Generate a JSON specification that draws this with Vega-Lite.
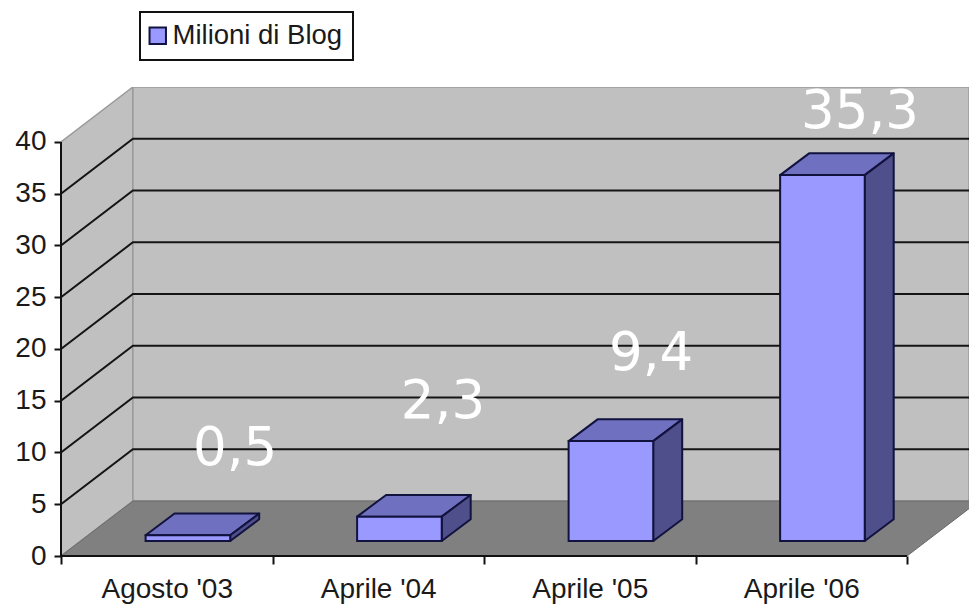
{
 "$schema":"https://vega.github.io/schema/vega-lite/v6.json",
 "autosize":{"type":"none"},
 "padding":{"left":61,"top":87,"right":0,"bottom":48},
 "width":908,"height":469,
 "background":"white",
 "config":{"view":{"stroke":null},"legend":{"strokeWidth":2},"axis":{"labelFont":"Liberation Sans","labelFontSize":28,"labelColor":"#1a1a1a","grid":false,"title":null}},
 "datasets":{
  "walls":[
   {"panel":"left","x":0,"lo":0,"hi":40},{"panel":"left","x":0.34,"lo":5.31,"hi":45.31},
   {"panel":"back","x":0.34,"lo":5.31,"hi":45.31},{"panel":"back","x":4.293,"lo":5.31,"hi":45.31}
  ],
  "floor":[{"y":0,"xl":0,"xr":4},{"y":5.31,"xl":0.34,"xr":4.34}],
  "grid":[
   {"v":5,"x":0,"y":5},{"v":5,"x":0.34,"y":10.31},{"v":5,"x":4.293,"y":10.31},
   {"v":10,"x":0,"y":10},{"v":10,"x":0.34,"y":15.31},{"v":10,"x":4.293,"y":15.31},
   {"v":15,"x":0,"y":15},{"v":15,"x":0.34,"y":20.31},{"v":15,"x":4.293,"y":20.31},
   {"v":20,"x":0,"y":20},{"v":20,"x":0.34,"y":25.31},{"v":20,"x":4.293,"y":25.31},
   {"v":25,"x":0,"y":25},{"v":25,"x":0.34,"y":30.31},{"v":25,"x":4.293,"y":30.31},
   {"v":30,"x":0,"y":30},{"v":30,"x":0.34,"y":35.31},{"v":30,"x":4.293,"y":35.31},
   {"v":35,"x":0,"y":35},{"v":35,"x":0.34,"y":40.31},{"v":35,"x":4.293,"y":40.31}
  ],
  "fronts":[
   {"bar":"Agosto '03","series":"Milioni di Blog","xl":0.4,"xr":0.8,"base":1.45,"top":2.0},
   {"bar":"Aprile '04","series":"Milioni di Blog","xl":1.4,"xr":1.8,"base":1.45,"top":3.8},
   {"bar":"Aprile '05","series":"Milioni di Blog","xl":2.4,"xr":2.8,"base":1.45,"top":11.1},
   {"bar":"Aprile '06","series":"Milioni di Blog","xl":3.4,"xr":3.8,"base":1.45,"top":36.8}
  ],
  "sides":[
   {"bar":"Agosto '03","x":0.8,"lo":1.45,"hi":2.0},{"bar":"Agosto '03","x":0.937,"lo":3.55,"hi":4.1},
   {"bar":"Aprile '04","x":1.8,"lo":1.45,"hi":3.8},{"bar":"Aprile '04","x":1.937,"lo":3.55,"hi":5.9},
   {"bar":"Aprile '05","x":2.8,"lo":1.45,"hi":11.1},{"bar":"Aprile '05","x":2.937,"lo":3.55,"hi":13.2},
   {"bar":"Aprile '06","x":3.8,"lo":1.45,"hi":36.8},{"bar":"Aprile '06","x":3.937,"lo":3.55,"hi":38.9}
  ],
  "tops":[
   {"bar":"Agosto '03","y":2.0,"xl":0.4,"xr":0.8},{"bar":"Agosto '03","y":4.1,"xl":0.537,"xr":0.937},
   {"bar":"Aprile '04","y":3.8,"xl":1.4,"xr":1.8},{"bar":"Aprile '04","y":5.9,"xl":1.537,"xr":1.937},
   {"bar":"Aprile '05","y":11.1,"xl":2.4,"xr":2.8},{"bar":"Aprile '05","y":13.2,"xl":2.537,"xr":2.937},
   {"bar":"Aprile '06","y":36.8,"xl":3.4,"xr":3.8},{"bar":"Aprile '06","y":38.9,"xl":3.537,"xr":3.937}
  ],
  "frame":[{"x":0,"x2":0,"y":0,"y2":40},{"x":0,"x2":4,"y":0,"y2":0}],
  "labels":[
   {"x":0.823,"y":8.8,"label":"0,5"},
   {"x":1.806,"y":13.3,"label":"2,3"},
   {"x":2.79,"y":18,"label":"9,4"},
   {"x":3.778,"y":41.35,"label":"35,3"}
  ]
 },
 "resolve":{"axis":{"x":"independent"}},
 "layer":[
  {"data":{"name":"walls"},
   "mark":{"type":"area","orient":"vertical","color":"#c0c0c0","stroke":"#9a9a9a","strokeWidth":1.5,"clip":true},
   "encoding":{
    "x":{"field":"x","type":"quantitative","scale":{"domain":[0,4.293],"nice":false,"zero":false},
     "axis":{"orient":"bottom","values":[0,1,2,3,4],"labels":false,"domain":false,"tickColor":"#111111","tickWidth":2,"tickSize":8}},
    "y":{"field":"lo","type":"quantitative","scale":{"domain":[0,45.31],"nice":false,"zero":false},
     "axis":{"orient":"left","values":[0,5,10,15,20,25,30,35,40],"domain":false,"tickColor":"#111111","tickWidth":2,"tickSize":7,"labelPadding":8}},
    "y2":{"field":"hi"},
    "detail":{"field":"panel"}
   }},
  {"data":{"name":"floor"},
   "mark":{"type":"area","orient":"horizontal","color":"#808080","stroke":"#6a6a6a","strokeWidth":1,"clip":true},
   "encoding":{
    "y":{"field":"y","type":"quantitative"},
    "x":{"field":"xl","type":"quantitative",
     "axis":{"orient":"bottom","values":[0.5,1.5,2.5,3.5],"ticks":false,"domain":false,"labelPadding":19,"labelFontSize":28,"labelExpr":"datum.value==0.5?\"Agosto '03\":datum.value==1.5?\"Aprile '04\":datum.value==2.5?\"Aprile '05\":\"Aprile '06\""}},
    "x2":{"field":"xr"}
   }},
  {"data":{"name":"grid"},
   "mark":{"type":"line","color":"#141414","strokeWidth":2,"clip":true},
   "encoding":{
    "x":{"field":"x","type":"quantitative","axis":null},
    "y":{"field":"y","type":"quantitative"},
    "detail":{"field":"v"}
   }},
  {"data":{"name":"tops"},
   "mark":{"type":"area","orient":"horizontal","color":"#7070c0","stroke":"#12123f","strokeWidth":2,"strokeJoin":"round"},
   "encoding":{
    "y":{"field":"y","type":"quantitative"},
    "x":{"field":"xl","type":"quantitative","axis":null},
    "x2":{"field":"xr"},
    "detail":{"field":"bar"}
   }},
  {"data":{"name":"sides"},
   "mark":{"type":"area","orient":"vertical","color":"#4f4f8c","stroke":"#12123f","strokeWidth":2,"strokeJoin":"round"},
   "encoding":{
    "x":{"field":"x","type":"quantitative","axis":null},
    "y":{"field":"lo","type":"quantitative"},
    "y2":{"field":"hi"},
    "detail":{"field":"bar"}
   }},
  {"data":{"name":"fronts"},
   "mark":{"type":"rect","stroke":"#12123f","strokeWidth":2},
   "encoding":{
    "x":{"field":"xl","type":"quantitative","axis":null},
    "x2":{"field":"xr"},
    "y":{"field":"base","type":"quantitative"},
    "y2":{"field":"top"},
    "color":{"field":"series","type":"nominal","scale":{"domain":["Milioni di Blog"],"range":["#9999ff"]},
     "legend":{"title":null,"orient":"none","legendX":79,"legendY":-75,"symbolType":"square","symbolSize":270,"symbolStrokeColor":"#12123f","symbolStrokeWidth":2,"symbolOpacity":1,"symbolOffset":-6,
      "labelFont":"Liberation Sans","labelFontSize":27.5,"labelLimit":0,"labelColor":"#1a1a1a","labelOffset":1,"fillColor":"white","strokeColor":"#111111","padding":10}}
   }},
  {"data":{"name":"frame"},
   "mark":{"type":"rule","color":"#111111","strokeWidth":2},
   "encoding":{
    "x":{"field":"x","type":"quantitative","axis":null},
    "x2":{"field":"x2"},
    "y":{"field":"y","type":"quantitative"},
    "y2":{"field":"y2"}
   }},
  {"data":{"name":"labels"},
   "mark":{"type":"text","font":"DejaVu Sans","fontSize":53,"color":"white","align":"center","baseline":"alphabetic"},
   "encoding":{
    "x":{"field":"x","type":"quantitative","axis":null},
    "y":{"field":"y","type":"quantitative"},
    "text":{"field":"label","type":"nominal"}
   }}
 ]
}
